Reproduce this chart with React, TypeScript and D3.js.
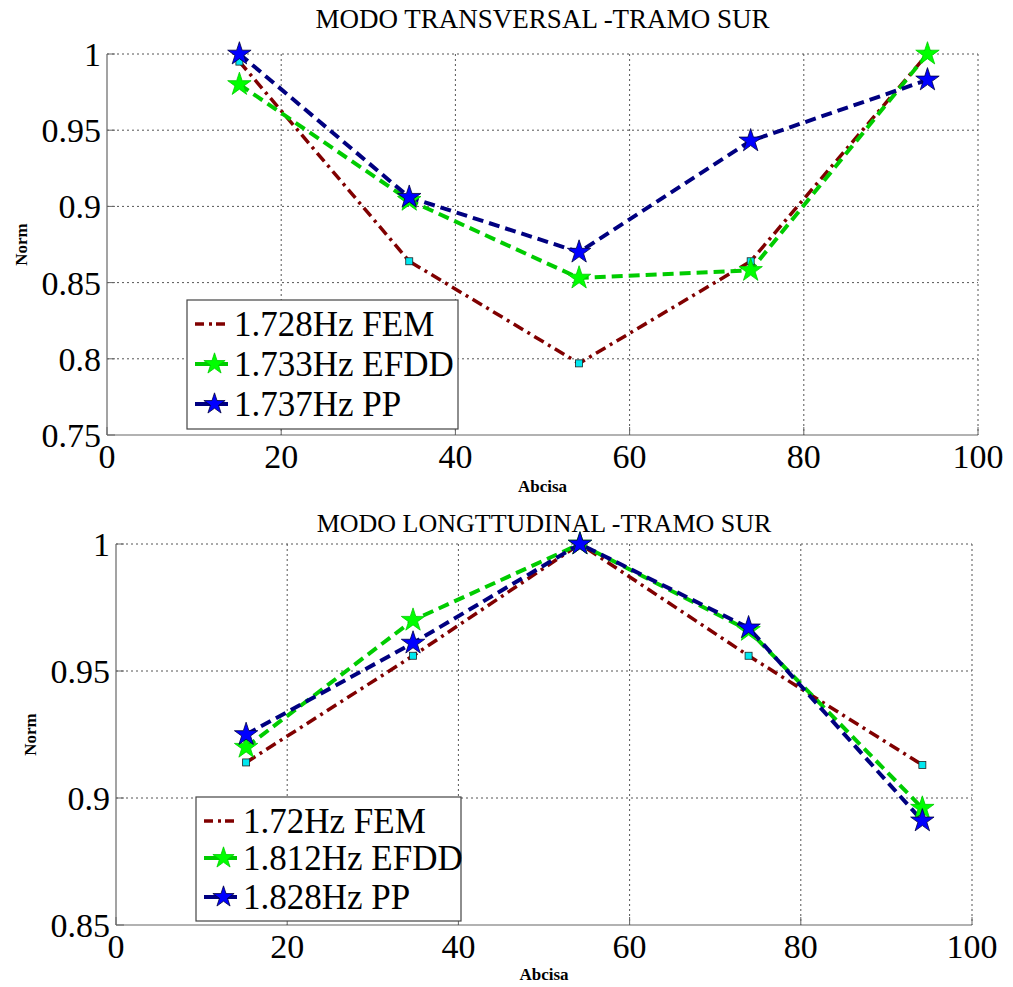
import React from 'react';
import * as d3 from 'd3';

// abscissa of the measured points (same for both modes)
const abcisa = [15.2, 34.7, 54.2, 73.9, 94.2];

// transversal mode
const transFem = [0.995, 0.864, 0.797, 0.864, 1.0];
const transEfdd = [0.98, 0.904, 0.853, 0.858, 1.0];
const transPp = [1.0, 0.906, 0.87, 0.943, 0.983];
const transNames = ['1.728Hz FEM', '1.733Hz EFDD', '1.737Hz PP'];
const transTicksY = [0.75, 0.8, 0.85, 0.9, 0.95, 1];

// longitudinal mode
const longFem = [0.914, 0.956, 1.0, 0.956, 0.913];
const longEfdd = [0.92, 0.97, 1.0, 0.966, 0.896];
const longPp = [0.925, 0.961, 1.0, 0.967, 0.891];
const longNames = ['1.72Hz FEM', '1.812Hz EFDD', '1.828Hz PP'];
const longTicksY = [0.85, 0.9, 0.95, 1];

const ticksX = [0, 20, 40, 60, 80, 100];

const FONT = '"Liberation Serif", "Times New Roman", serif';
const FEM_COLOR = '#800000';
const EFDD_LINE = '#00cc00';
const EFDD_FILL = '#00ff00';
const PP_LINE = '#000080';
const PP_FILL = '#0000ff';

const star = d3.symbol(d3.symbolStar).size(170)();
const starSmall = d3.symbol(d3.symbolStar).size(140)();

type PanelProps = {
  title: string;
  box: { left: number; right: number; top: number; bottom: number };
  yDomain: [number, number];
  yTicks: number[];
  fem: number[];
  efdd: number[];
  pp: number[];
  names: string[];
  legend: { x: number; y: number; w: number; h: number; rows: number[] };
  titleY: number;
  titleSize: number;
  xLabelY: number;
  normX: number;
  specialLast?: boolean;
};

function Panel(p: PanelProps) {
  const { left, right, top, bottom } = p.box;
  const x = d3.scaleLinear().domain([0, 100]).range([left, right]);
  const y = d3.scaleLinear().domain(p.yDomain).range([bottom, top]);
  const line = d3
    .line<number>()
    .x((_, i) => x(abcisa[i]))
    .y((d) => y(d));
  const fmt = (v: number) => String(v);

  return (
    <g>
      <text x={(left + right) / 2} y={p.titleY} textAnchor="middle" fontSize={p.titleSize} fontFamily={FONT}>
        {p.title}
      </text>
      {/* grid */}
      {ticksX.slice(1).map((t) => (
        <line key={'gx' + t} x1={x(t)} x2={x(t)} y1={top} y2={bottom} stroke="#555" strokeWidth={1} strokeDasharray="2,3" />
      ))}
      {p.yTicks.slice(1).map((t) => (
        <line key={'gy' + t} x1={left} x2={right} y1={y(t)} y2={y(t)} stroke="#555" strokeWidth={1} strokeDasharray="2,3" />
      ))}
      {/* axes */}
      <line x1={left} x2={left} y1={top} y2={bottom} stroke="#666" strokeWidth={1.2} />
      <line x1={left} x2={right} y1={bottom} y2={bottom} stroke="#666" strokeWidth={1.2} />
      {ticksX.map((t) => (
        <line key={'tx' + t} x1={x(t)} x2={x(t)} y1={bottom} y2={bottom - 8} stroke="#666" />
      ))}
      {p.yTicks.map((t) => (
        <line key={'ty' + t} x1={left} x2={left + 8} y1={y(t)} y2={y(t)} stroke="#666" />
      ))}
      {ticksX.map((t) => (
        <text key={'lx' + t} x={x(t)} y={bottom + 33} textAnchor="middle" fontSize={34} fontFamily={FONT}>
          {t}
        </text>
      ))}
      {p.yTicks.map((t) => (
        <text key={'ly' + t} x={left - 6} y={y(t)} dy="0.35em" textAnchor="end" fontSize={34} fontFamily={FONT}>
          {fmt(t)}
        </text>
      ))}
      <text x={(left + right) / 2} y={p.xLabelY} textAnchor="middle" fontSize={17} fontWeight="bold" fontFamily={FONT}>
        Abcisa
      </text>
      <text
        transform={`translate(${p.normX},${(top + bottom) / 2}) rotate(-90)`}
        textAnchor="middle"
        fontSize={17}
        fontWeight="bold"
        fontFamily={FONT}
      >
        Norm
      </text>
      {/* series */}
      <path d={line(p.fem) ?? ''} fill="none" stroke={FEM_COLOR} strokeWidth={3.5} strokeDasharray="11,5,3,5" />
      <path d={line(p.efdd) ?? ''} fill="none" stroke={EFDD_LINE} strokeWidth={4} strokeDasharray="11,6" />
      <path d={line(p.pp) ?? ''} fill="none" stroke={PP_LINE} strokeWidth={4} strokeDasharray="11,6" />
      {p.fem.map((v, i) => (
        <rect
          key={'fm' + i}
          x={x(abcisa[i]) - 3.5}
          y={y(v) - 3.5}
          width={7}
          height={7}
          fill={p.specialLast && i === p.fem.length - 1 ? '#e000e0' : '#00e8f0'}
          stroke="#222"
          strokeWidth={0.8}
        />
      ))}
      {p.efdd.map((v, i) => (
        <path key={'em' + i} d={star} transform={`translate(${x(abcisa[i])},${y(v)})`} fill={EFDD_FILL} stroke={EFDD_LINE} strokeWidth={0.8} />
      ))}
      {p.pp.map((v, i) => (
        <path key={'pm' + i} d={star} transform={`translate(${x(abcisa[i])},${y(v)})`} fill={PP_FILL} stroke="#000040" strokeWidth={0.8} />
      ))}
      {/* legend */}
      <rect x={p.legend.x} y={p.legend.y} width={p.legend.w} height={p.legend.h} fill="#fff" stroke="#444" strokeWidth={1.2} />
      {p.names.map((name, i) => {
        const ry = p.legend.rows[i];
        const lx0 = p.legend.x + 8;
        const lx1 = p.legend.x + 41;
        const mid = (lx0 + lx1) / 2 + 3;
        return (
          <g key={name}>
            {i === 0 ? (
              <g>
                <line x1={lx0} x2={lx1} y1={ry} y2={ry} stroke={FEM_COLOR} strokeWidth={3.5} strokeDasharray="9,5,3,4,9" />
              </g>
            ) : (
              <g>
                <line x1={lx0} x2={lx1} y1={ry} y2={ry} stroke={i === 1 ? EFDD_LINE : PP_LINE} strokeWidth={4} />
                <path
                  d={starSmall}
                  transform={`translate(${mid},${ry})`}
                  fill={i === 1 ? EFDD_FILL : PP_FILL}
                  stroke={i === 1 ? EFDD_LINE : '#000040'}
                  strokeWidth={0.8}
                />
              </g>
            )}
            <text x={p.legend.x + 47} y={ry} dy="0.35em" fontSize={35} fontFamily={FONT}>
              {name}
            </text>
          </g>
        );
      })}
    </g>
  );
}

export default function App() {
  return (
    <div style={{ position: 'absolute', left: 0, top: 0 }}>
      <svg width={1013} height={987} style={{ display: 'block', background: '#fff' }}>
        <Panel
          title="MODO TRANSVERSAL -TRAMO SUR"
          box={{ left: 107, right: 978, top: 54, bottom: 435 }}
          yDomain={[0.75, 1]}
          yTicks={transTicksY}
          fem={transFem}
          efdd={transEfdd}
          pp={transPp}
          names={transNames}
          legend={{ x: 187, y: 300, w: 271, h: 129, rows: [324, 364, 404] }}
          titleY={28}
          titleSize={27}
          xLabelY={492}
          normX={27}
          specialLast
        />
        <Panel
          title="MODO LONGTTUDINAL -TRAMO SUR"
          box={{ left: 116, right: 972, top: 544, bottom: 925 }}
          yDomain={[0.85, 1]}
          yTicks={longTicksY}
          fem={longFem}
          efdd={longEfdd}
          pp={longPp}
          names={longNames}
          legend={{ x: 196, y: 797, w: 265, h: 124, rows: [821, 858, 897] }}
          titleY={532}
          titleSize={26}
          xLabelY={980}
          normX={36}
        />
      </svg>
    </div>
  );
}
